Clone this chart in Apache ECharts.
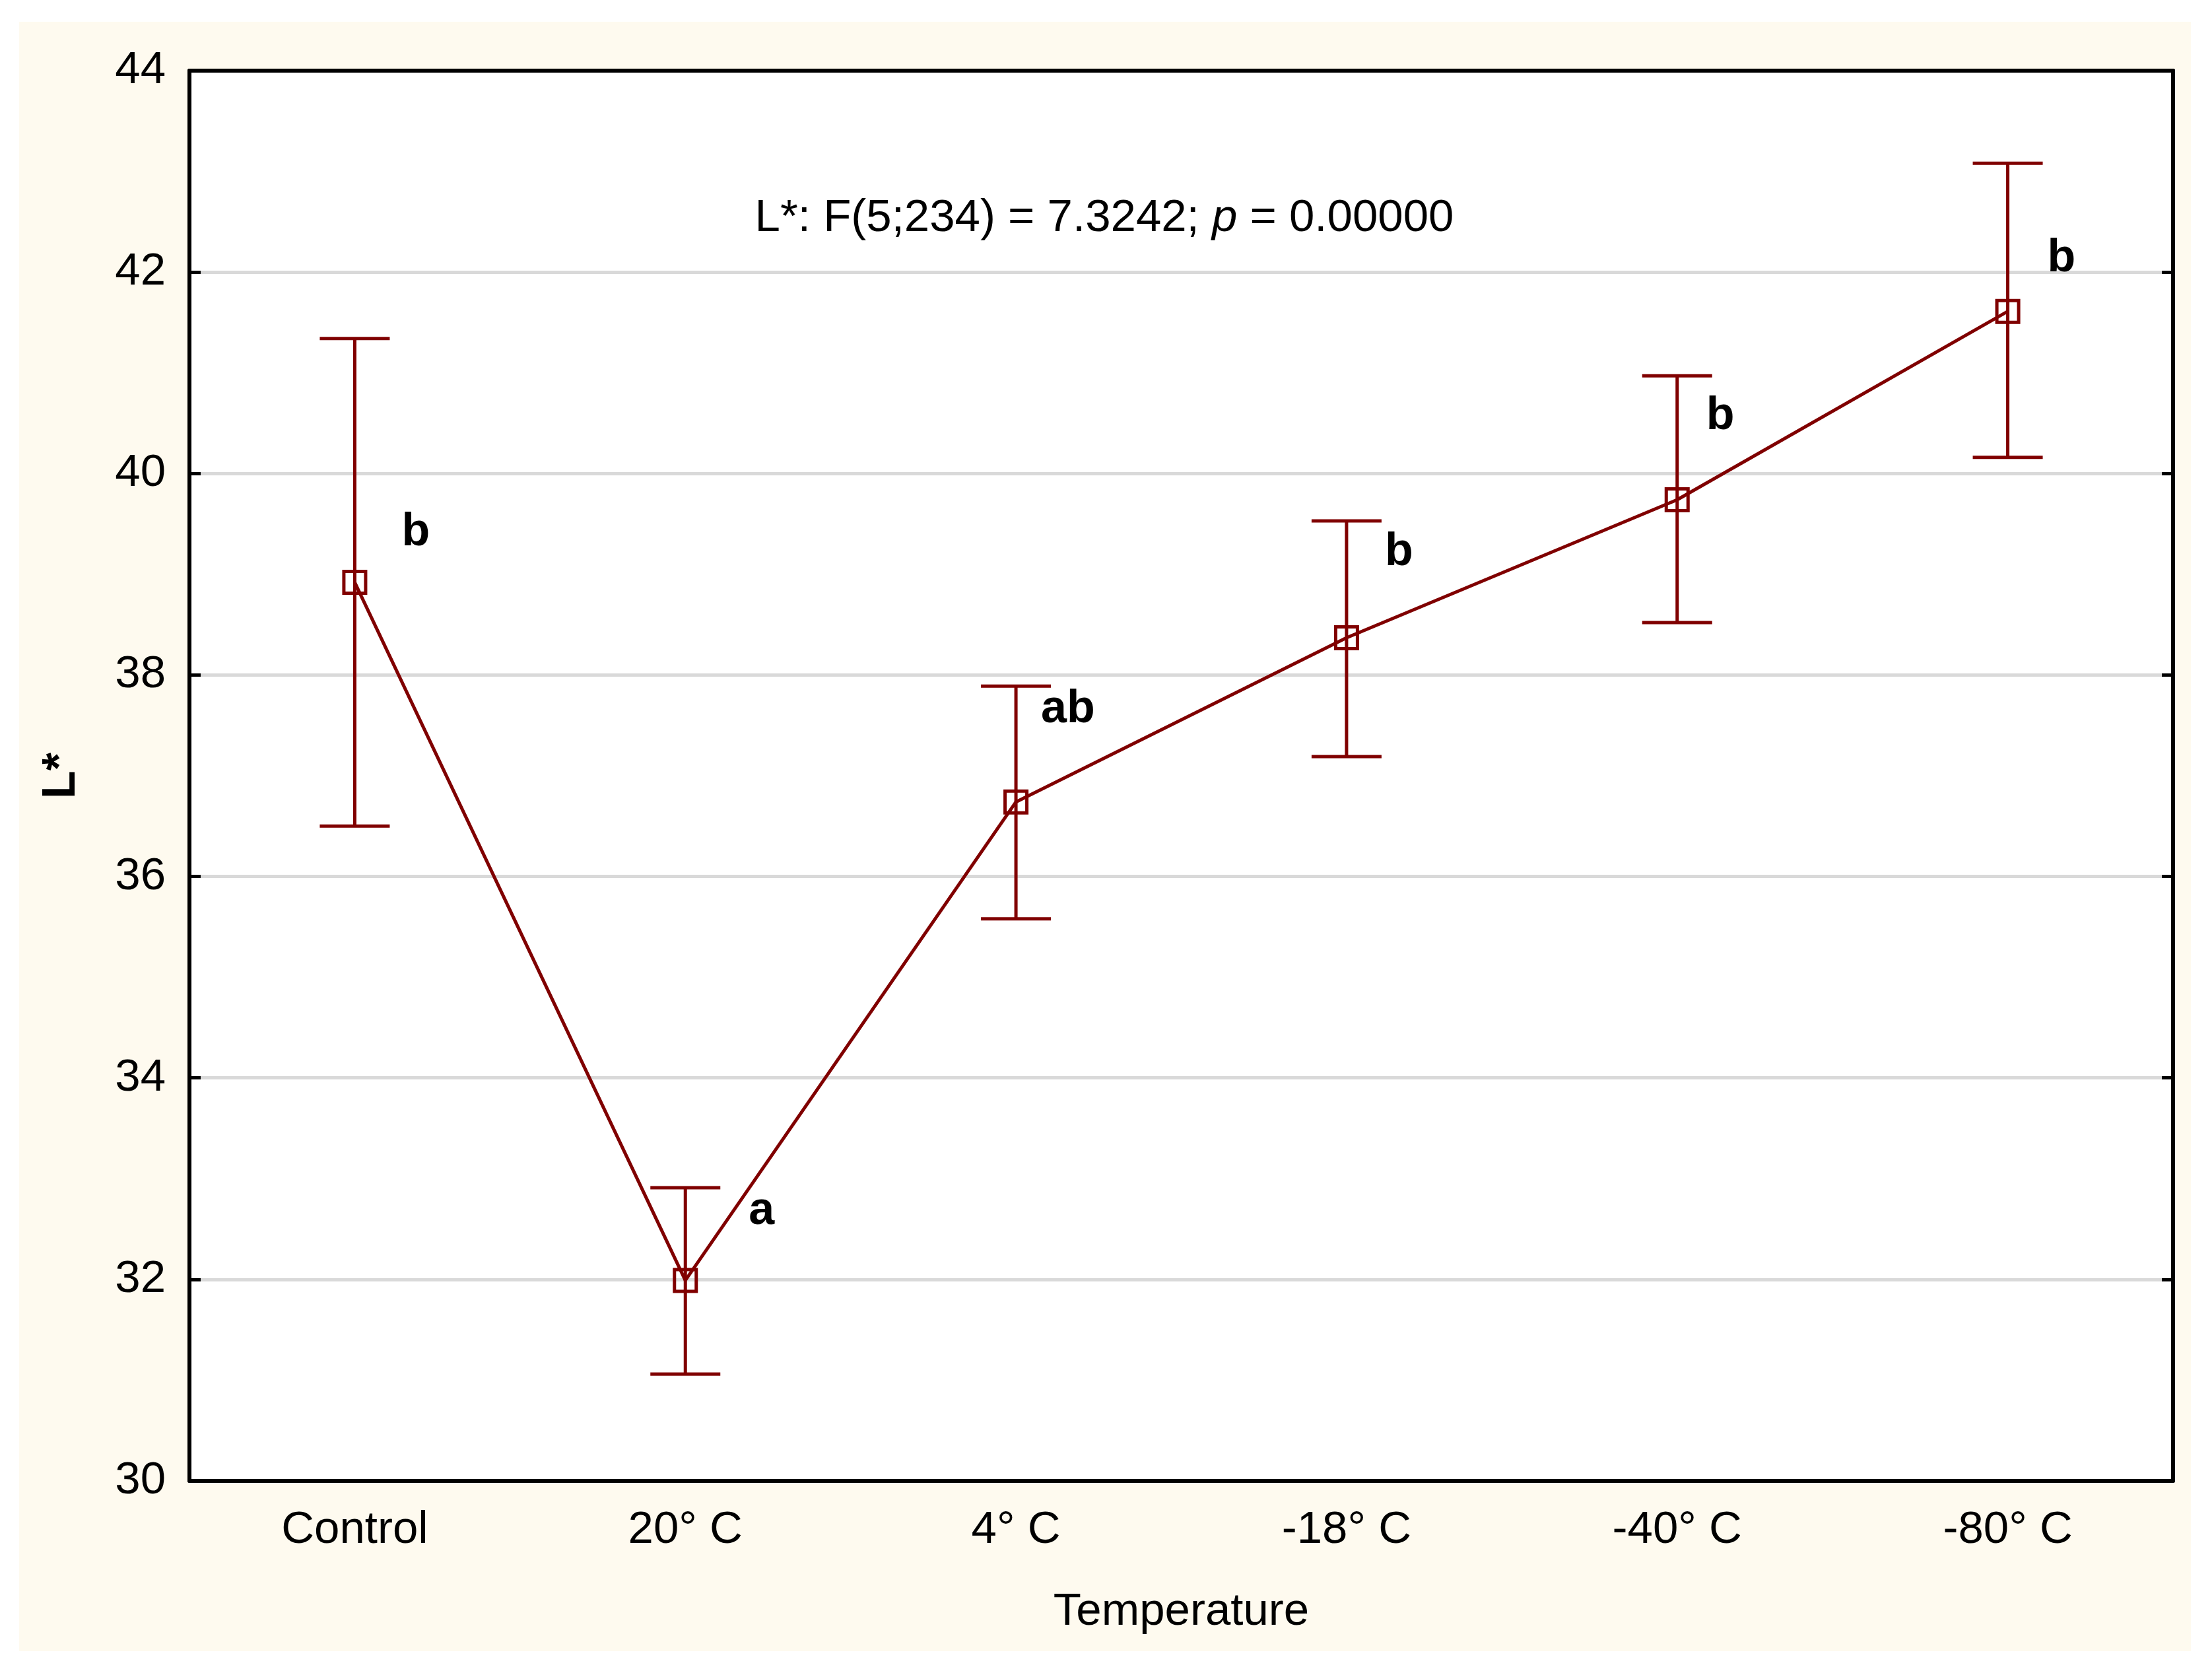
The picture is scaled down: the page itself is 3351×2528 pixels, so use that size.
<!DOCTYPE html>
<html>
<head>
<meta charset="utf-8">
<title>L* by temperature</title>
<script src="https://cdn.jsdelivr.net/npm/echarts@6/dist/echarts.min.js"></script>
<style>
    html, body { margin: 0; padding: 0; background: #fff; }
    #chart { width: 3351px; height: 2528px; }
</style>
</head>
<body>
<div id="chart"></div>
<script>
// values
const categories = ['Control', '20° C', '4° C', '-18° C', '-40° C', '-80° C'];
const means = [38.92, 31.99, 36.74, 38.37, 39.74, 41.61];
const upper = [41.34, 32.91, 37.89, 39.53, 40.97, 43.08];
const lower = [36.50, 31.06, 35.58, 37.19, 38.52, 40.16];
const groupLetters = ['b', 'a', 'ab', 'b', 'b', 'b'];
const letterBaseline = [39.31, 32.57, 37.55, 39.11, 40.46, 42.03];
const yTicks = [30, 32, 34, 36, 38, 40, 42, 44];
const statsText = ['L*: F(5;234) = 7.3242; ', 'p', ' = 0.00000'];

// layout
const FONT = '"Liberation Sans", Arial, Helvetica, sans-serif';
const RED = '#800000';
const letterDx = [71, 96, 38, 58, 44, 60];

const chart = echarts.init(document.getElementById('chart'), null, {renderer: 'canvas'});

const errorData = categories.map((c, i) => [i, lower[i], upper[i], means[i]]);
const letterData = categories.map((c, i) => [i, letterBaseline[i]]);

function renderErrorBar(params, api) {
    const idx = api.value(0);
    const lo = api.coord([idx, api.value(1)]);
    const hi = api.coord([idx, api.value(2)]);
    const mid = api.coord([idx, api.value(3)]);
    const capHalf = 53;
    const box = 33;
    const style = {stroke: RED, lineWidth: 5, fill: null};
    return {
        type: 'group',
        children: [
            {type: 'line', shape: {x1: hi[0], y1: hi[1], x2: lo[0], y2: lo[1]}, style},
            {type: 'line', shape: {x1: hi[0] - capHalf, y1: hi[1], x2: hi[0] + capHalf, y2: hi[1]}, style},
            {type: 'line', shape: {x1: lo[0] - capHalf, y1: lo[1], x2: lo[0] + capHalf, y2: lo[1]}, style},
            {type: 'rect', shape: {x: mid[0] - box / 2, y: mid[1] - box / 2, width: box, height: box}, style}
        ]
    };
}

function renderLetter(params, api) {
    const i = params.dataIndex;
    const p = api.coord([api.value(0), api.value(1)]);
    return {
        type: 'text',
        x: p[0] + letterDx[i],
        y: p[1] - 16,
        style: {
            text: groupLetters[i],
            fontFamily: FONT,
            fontWeight: 'bold',
            fontSize: 70,
            fill: '#000',
            align: 'left',
            verticalAlign: 'middle'
        }
    };
}

const option = {
    backgroundColor: '#ffffff',
    animation: false,
    graphic: [
        {
            type: 'rect',
            z: -10,
            silent: true,
            shape: {x: 29, y: 33, width: 3290, height: 2468},
            style: {fill: '#FEFAEF'}
        },
        {
            type: 'text',
            z: 10,
            x: 1673,
            y: 331,
            style: {
                text: '{n|' + statsText[0] + '}{i|' + statsText[1] + '}{n|' + statsText[2] + '}',
                align: 'center',
                verticalAlign: 'middle',
                rich: {
                    n: {fontFamily: FONT, fontSize: 69, fill: '#000'},
                    i: {fontFamily: FONT, fontSize: 69, fontStyle: 'italic', fill: '#000'}
                }
            }
        }
    ],
    grid: {
        left: 287, right: 59, top: 107, bottom: 285,
        show: true, backgroundColor: '#ffffff', borderWidth: 0
    },
    xAxis: [
        {
            type: 'category',
            data: categories,
            position: 'bottom',
            boundaryGap: true,
            name: 'Temperature',
            nameLocation: 'middle',
            nameGap: 164,
            nameTextStyle: {fontFamily: FONT, fontSize: 69, color: '#000'},
            axisLine: {lineStyle: {color: '#000', width: 6}},
            axisTick: {inside: true, alignWithLabel: true, length: 17, lineStyle: {color: '#000', width: 5}},
            axisLabel: {fontFamily: FONT, fontSize: 69, color: '#000', margin: 40},
            splitLine: {show: false}
        },
        {
            type: 'category',
            data: categories,
            position: 'top',
            boundaryGap: true,
            axisLine: {lineStyle: {color: '#000', width: 6}},
            axisTick: {inside: true, alignWithLabel: true, length: 17, lineStyle: {color: '#000', width: 5}},
            axisLabel: {show: false},
            splitLine: {show: false}
        }
    ],
    yAxis: [
        {
            type: 'value',
            min: yTicks[0],
            max: yTicks[yTicks.length - 1],
            interval: yTicks[1] - yTicks[0],
            position: 'left',
            name: 'L*',
            nameLocation: 'middle',
            nameRotate: 90,
            nameGap: 158,
            nameTextStyle: {fontFamily: FONT, fontSize: 70, fontWeight: 'bold', color: '#000'},
            axisLine: {show: true, lineStyle: {color: '#000', width: 6}},
            axisTick: {show: true, inside: true, length: 17, lineStyle: {color: '#000', width: 5}},
            axisLabel: {fontFamily: FONT, fontSize: 69, color: '#000', margin: 36},
            splitLine: {show: true, lineStyle: {color: '#D9D9D9', width: 5}}
        },
        {
            type: 'value',
            min: yTicks[0],
            max: yTicks[yTicks.length - 1],
            interval: yTicks[1] - yTicks[0],
            position: 'right',
            axisLine: {show: true, lineStyle: {color: '#000', width: 6}},
            axisTick: {show: true, inside: true, length: 17, lineStyle: {color: '#000', width: 5}},
            axisLabel: {show: false},
            splitLine: {show: false}
        }
    ],
    series: [
        {
            type: 'line',
            data: means,
            symbol: 'none',
            lineStyle: {color: RED, width: 5},
            z: 3
        },
        {
            type: 'custom',
            data: errorData,
            renderItem: renderErrorBar,
            encode: {x: 0, y: [1, 2, 3]},
            z: 4
        },
        {
            type: 'custom',
            data: letterData,
            renderItem: renderLetter,
            encode: {x: 0, y: 1},
            z: 5
        }
    ]
};

chart.setOption(option);
</script>
</body>
</html>
